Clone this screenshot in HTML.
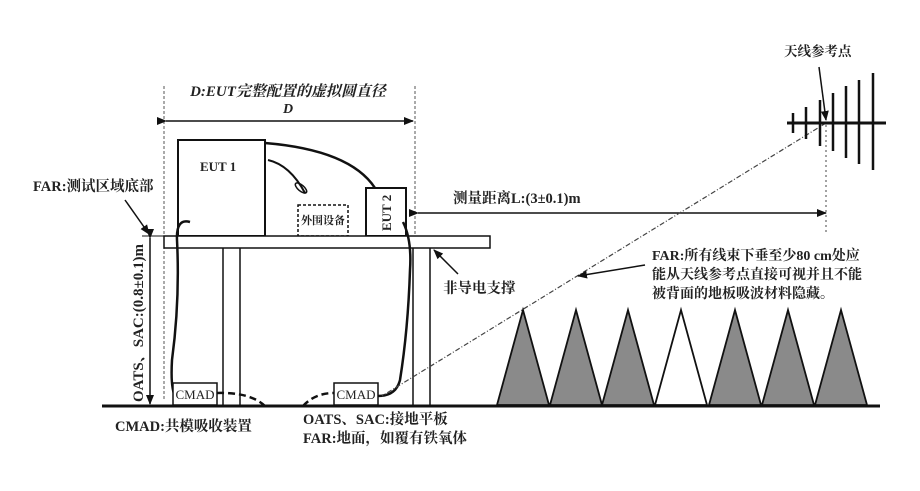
<!DOCTYPE html>
<html><head><meta charset="utf-8"><style>
html,body{margin:0;padding:0;background:#fff;}
svg text{font-family:"Liberation Serif","Noto Serif CJK SC","Noto Sans CJK SC",serif;font-weight:bold;fill:#222;}
</style></head><body>
<svg width="920" height="486" viewBox="0 0 920 486" xmlns="http://www.w3.org/2000/svg">
<defs>
<marker id="a" markerWidth="10" markerHeight="8" refX="9" refY="4" orient="auto" markerUnits="userSpaceOnUse"><path d="M0,0 L10,4 L0,8 z" fill="#111"/></marker>
</defs>
<rect width="920" height="486" fill="#fff"/>
<line x1="164" y1="86" x2="164" y2="400" stroke="#555" stroke-width="1" stroke-dasharray="3,2"/>
<line x1="415" y1="86" x2="415" y2="245" stroke="#555" stroke-width="1" stroke-dasharray="3,2"/>
<text x="288" y="96" font-size="15" text-anchor="middle" font-style="italic">D:EUT完整配置的虚拟圆直径</text>
<text x="288" y="113" font-size="14" text-anchor="middle" font-style="italic">D</text>
<line x1="166" y1="121" x2="413" y2="121" stroke="#111" stroke-width="1.5" marker-end="url(#a)" marker-start="url(#a)"/>
<rect x="178" y="140" width="87" height="96" fill="#fff" stroke="#111" stroke-width="2"/>
<text x="200" y="171" font-size="13">EUT 1</text>
<rect x="366" y="188" width="40" height="48" fill="#fff" stroke="#111" stroke-width="2"/>
<text x="0" y="0" font-size="13" transform="translate(391,231) rotate(-90)">EUT 2</text>
<rect x="298" y="205" width="50" height="31" fill="#fff" stroke="#111" stroke-width="1.5" stroke-dasharray="3,2"/>
<text x="323" y="224" font-size="11" text-anchor="middle">外围设备</text>
<path d="M265,143 Q350,150 375,188" fill="none" stroke="#111" stroke-width="2.5"/>
<path d="M268,160 Q290,165 305,193" fill="none" stroke="#111" stroke-width="2"/>
<ellipse cx="301" cy="188" rx="7" ry="3" transform="rotate(40 301 188)" fill="none" stroke="#111" stroke-width="1.5"/>
<rect x="164" y="236" width="326" height="12" fill="#fff" stroke="#111" stroke-width="1.5"/>
<line x1="223" y1="248" x2="223" y2="406" stroke="#111" stroke-width="1.5"/>
<line x1="240" y1="248" x2="240" y2="406" stroke="#111" stroke-width="1.5"/>
<line x1="413" y1="248" x2="413" y2="406" stroke="#111" stroke-width="1.5"/>
<line x1="430" y1="248" x2="430" y2="406" stroke="#111" stroke-width="1.5"/>
<path d="M190,222 Q176,218 177,240 Q180,300 172,360 Q170,395 178,400" fill="none" stroke="#111" stroke-width="2.5"/>
<path d="M403,222 Q412,240 410,270 Q408,330 400,380 Q396,396 378,396" fill="none" stroke="#111" stroke-width="2.5"/>
<path d="M217,393 Q250,392 265,406" fill="none" stroke="#111" stroke-width="2.5" stroke-dasharray="7,4"/>
<path d="M303,406 Q315,393 334,393" fill="none" stroke="#111" stroke-width="2.5" stroke-dasharray="7,4"/>
<rect x="173" y="383" width="44" height="22" fill="#fff" stroke="#111" stroke-width="1.5"/>
<text x="195" y="399" font-size="13" text-anchor="middle" style="font-weight:normal">CMAD</text>
<rect x="334" y="383" width="44" height="22" fill="#fff" stroke="#111" stroke-width="1.5"/>
<text x="356" y="399" font-size="13" text-anchor="middle" style="font-weight:normal">CMAD</text>
<line x1="150" y1="238" x2="150" y2="404" stroke="#111" stroke-width="1.5" marker-start="url(#a)" marker-end="url(#a)"/>
<line x1="142" y1="236" x2="164" y2="236" stroke="#111" stroke-width="1"/>
<text x="0" y="0" font-size="15" transform="translate(143,402) rotate(-90)">OATS、SAC:(0.8±0.1)m</text>
<text x="33" y="191" font-size="14.5">FAR:测试区域底部</text>
<line x1="125" y1="200" x2="149" y2="234" stroke="#111" stroke-width="1.5" marker-end="url(#a)"/>
<line x1="102" y1="406" x2="880" y2="406" stroke="#111" stroke-width="3"/>
<text x="115" y="431" font-size="14.5">CMAD:共模吸收装置</text>
<text x="303" y="424" font-size="14.5">OATS、SAC:接地平板</text>
<text x="303" y="443" font-size="14.5">FAR:地面，如覆有铁氧体</text>
<line x1="458" y1="274" x2="434" y2="250" stroke="#111" stroke-width="1.5" marker-end="url(#a)"/>
<text x="443" y="293" font-size="14.5">非导电支撑</text>
<text x="453" y="203" font-size="14.5">测量距离L:(3±0.1)m</text>
<line x1="418" y1="213" x2="826" y2="213" stroke="#111" stroke-width="1.5" marker-start="url(#a)" marker-end="url(#a)"/>
<line x1="826" y1="125" x2="826" y2="232" stroke="#444" stroke-width="1" stroke-dasharray="2,3"/>
<line x1="826" y1="123" x2="382" y2="396" stroke="#444" stroke-width="1.2" stroke-dasharray="5,2,1,2"/>
<text x="652" y="260" font-size="14">FAR:所有线束下垂至少80 cm处应</text>
<text x="652" y="279" font-size="14">能从天线参考点直接可视并且不能</text>
<text x="652" y="298" font-size="14">被背面的地板吸波材料隐藏。</text>
<line x1="645" y1="265" x2="578" y2="276" stroke="#111" stroke-width="1.5" marker-end="url(#a)"/>
<text x="784" y="56" font-size="13.5">天线参考点</text>
<line x1="819" y1="67" x2="826" y2="120" stroke="#111" stroke-width="1.5" marker-end="url(#a)"/>
<line x1="787" y1="123" x2="886" y2="123" stroke="#111" stroke-width="3"/>
<g stroke="#111" stroke-width="2.5">
<line x1="793" y1="113" x2="793" y2="133"/>
<line x1="806" y1="107" x2="806" y2="139"/>
<line x1="820" y1="100" x2="820" y2="146"/>
<line x1="833" y1="93" x2="833" y2="151"/>
<line x1="846" y1="86" x2="846" y2="158"/>
<line x1="859" y1="80" x2="859" y2="164"/>
<line x1="873" y1="73" x2="873" y2="170"/>
</g>
<g stroke="#111" stroke-width="1.8">
<polygon points="497,405 523,310 549,405" fill="#8a8a8a"/>
<polygon points="550,405 576,310 602,405" fill="#8a8a8a"/>
<polygon points="602,405 628,310 654,405" fill="#8a8a8a"/>
<polygon points="655,405 681,310 707,405" fill="#fff"/>
<polygon points="709,405 735,310 761,405" fill="#8a8a8a"/>
<polygon points="762,405 788,310 814,405" fill="#8a8a8a"/>
<polygon points="815,405 841,310 867,405" fill="#8a8a8a"/>
</g>
</svg>
</body></html>
